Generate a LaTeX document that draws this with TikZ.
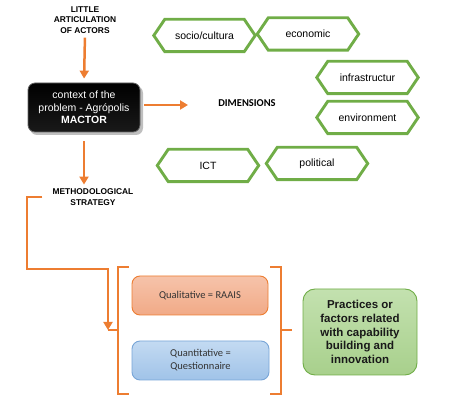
\documentclass[tikz,border=0pt]{standalone}
\usepackage{fontspec}
\setmainfont{Liberation Sans}
\newfontfamily\calib{Carlito}
\usetikzlibrary{arrows.meta}
\definecolor{orng}{RGB}{237,125,49}
\definecolor{hexg}{RGB}{112,173,71}
\definecolor{qlfill}{RGB}{241,170,135}
\definecolor{qltop}{RGB}{246,195,170}
\definecolor{qnfill}{RGB}{160,195,232}
\definecolor{qntop}{RGB}{195,218,242}
\definecolor{qnline}{RGB}{120,165,215}
\definecolor{grfill}{RGB}{168,208,140}
\definecolor{grtop}{RGB}{195,225,175}
\newcommand\hexdraw[1]{\draw[hexline] (#1.west) -- ([xshift=11pt]#1.north west) -- ([xshift=-11pt]#1.north east) -- (#1.east) -- ([xshift=-11pt]#1.south east) -- ([xshift=11pt]#1.south west) -- cycle;}
\begin{document}
\begin{tikzpicture}[x=1pt,y=-1pt,
  hexnode/.style={minimum width=101pt,minimum height=32pt,inner sep=0pt,font=\fontsize{10.5}{12}\selectfont},
  hexline/.style={draw=hexg,line width=2.9pt,line join=miter},
  captxt/.style={align=center,inner sep=1pt,font=\bfseries\fontsize{8.4}{10.5}\selectfont},
  oarr/.style={draw=orng,line width=2.5pt,-{Triangle[length=8pt,width=9pt]}},
  oline/.style={draw=orng,line width=2.7pt,line join=miter},
  rbox/.style={rounded corners=8pt,align=center,inner sep=0pt}]
\useasboundingbox (0,0) rectangle (459,406);
% top label
\node[captxt] (little) at (85,20) {LITTLE\\ARTICULATION\\OF ACTORS};
% context box
\fill[black!25,rounded corners=7pt] (30,86) rectangle (143,135);
\node[rbox,rounded corners=7pt,top color=black,bottom color=black!90,draw=black!60,line width=0.8pt,text=white,minimum width=112pt,minimum height=49pt,
  font=\fontsize{10.5}{12.5}\selectfont] (ctx) at (84,107.5) {context of the\\problem - Agrópolis\\\textbf{MACTOR}};
\node[font=\calib\bfseries\fontsize{10.5}{12}\selectfont] (dim) at (247,103) {DIMENSIONS};
\coordinate (dimarr) at (188,105);
% hexagons
\node[hexnode] (soc) at (204.5,35.5) {socio/cultura};
\node[hexnode] (eco) at (308,34) {economic};
\node[hexnode] (inf) at (367.5,77.5) {infrastructur};
\node[hexnode] (env) at (367.5,117.5) {environment};
\node[hexnode] (ict) at (208,165.5) {ICT};
\node[hexnode] (pol) at (317,163.5) {political};
\hexdraw{soc}\hexdraw{eco}\hexdraw{inf}\hexdraw{env}\hexdraw{ict}\hexdraw{pol}
% methodological
\node[captxt] (meth) at (93,197) {METHODOLOGICAL\\STRATEGY};
% arrows
\draw[oarr,shorten <=3pt,shorten >=4pt] (little.south) -- (ctx.north);
\draw[oarr,shorten <=4pt] (ctx.east |- dimarr) -- (dimarr);
\draw[oarr,shorten <=9pt,shorten >=3pt] (ctx.south) -- (ctx.south |- meth.north);
% boxes
\node[rbox,draw=orng,line width=0.9pt,top color=qltop,bottom color=qlfill,minimum width=136pt,minimum height=39pt,
  text=black!80,font=\calib\fontsize{10.5}{13}\selectfont] (qual) at (200,295.5) {Qualitative = RAAIS};
\node[rbox,draw=qnline,line width=0.9pt,top color=qntop,bottom color=qnfill,minimum width=137pt,minimum height=39pt,
  text=black!80,font=\calib\fontsize{10.5}{13}\selectfont] (quan) at (200.5,360.5) {Quantitative =\\Questionnaire};
\node[rbox,rounded corners=12pt,draw=hexg,line width=0.9pt,top color=grtop,bottom color=grfill,minimum width=114pt,minimum height=86pt,
  text=black!90,font=\bfseries\fontsize{11.5}{13.7}\selectfont] (prac) at (360,332) {Practices or\\factors related\\with capability\\building and\\innovation};
% brackets
\coordinate (lbtip) at (108,330);
\draw[oline] (129,267) -- (118,267) -- (118,394) -- (129,394);
\draw[oline] (118,330) -- (lbtip);
\draw[oline] (270,267) -- (281,267) -- (281,394) -- (270,394);
\draw[oline] (281,330) -- (292,330);
% connector from strategy to bracket
\draw[oarr] ([xshift=-9pt]meth.west) -| (27,269) -| (lbtip);
\end{tikzpicture}
\end{document}
